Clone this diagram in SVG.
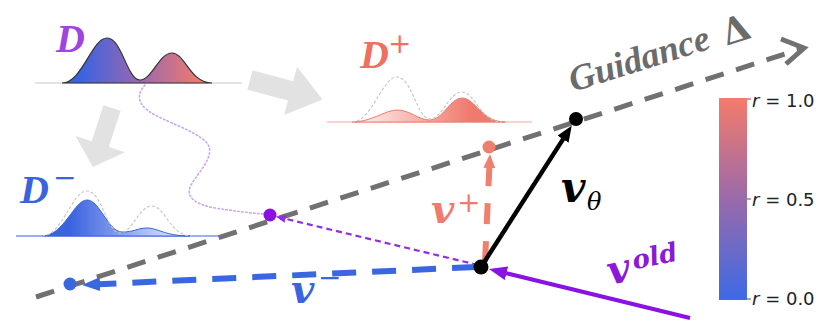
<svg xmlns="http://www.w3.org/2000/svg" width="819" height="321" viewBox="0 0 819 321">
<style>
.lbl{font-family:"Liberation Serif",serif;font-style:italic;font-weight:bold}
.math{font-family:"DejaVu Serif",serif;font-style:italic;font-weight:bold}
.sup{font-family:"DejaVu Serif",serif}
.cb{font-family:"DejaVu Sans",sans-serif;font-size:18px;fill:#222}
.ghost{fill:none;stroke:#c4c4c4;stroke-width:1.1;stroke-dasharray:3 2}
.bigarrow{fill:#e2e2e2}
</style>
<defs>
<linearGradient id="gD" gradientUnits="userSpaceOnUse" x1="80" y1="0" x2="200" y2="0">
<stop offset="0" stop-color="#3a63e0"/><stop offset="0.5" stop-color="#9a68b0"/><stop offset="1" stop-color="#f07a6e"/>
</linearGradient>
<linearGradient id="gP" gradientUnits="userSpaceOnUse" x1="355" y1="0" x2="470" y2="0">
<stop offset="0" stop-color="#fff4f2"/><stop offset="1" stop-color="#f07a6e"/>
</linearGradient>
<linearGradient id="gM" gradientUnits="userSpaceOnUse" x1="70" y1="0" x2="185" y2="0">
<stop offset="0" stop-color="#3a63e0"/><stop offset="1" stop-color="#e8edfc"/>
</linearGradient>
<linearGradient id="gCB" x1="0" y1="0" x2="0" y2="1">
<stop offset="0" stop-color="#f47b6b"/><stop offset="0.5" stop-color="#9a6aaa"/><stop offset="1" stop-color="#3d6ae6"/>
</linearGradient>
<marker id="mK" markerUnits="userSpaceOnUse" markerWidth="16" markerHeight="13" refX="6" refY="6.5" orient="auto"><path d="M0,0 L16,6.5 L0,13 Z" fill="#000"/></marker>
<marker id="mV" markerUnits="userSpaceOnUse" markerWidth="18" markerHeight="14" refX="8" refY="7" orient="auto"><path d="M0,0 L18,7 L0,14 Z" fill="#8a12e2"/></marker>
<marker id="mB" markerUnits="userSpaceOnUse" markerWidth="18" markerHeight="14" refX="8" refY="7" orient="auto"><path d="M0,0 L18,7 L0,14 Z" fill="#3a66e0"/></marker>
<marker id="mS" markerUnits="userSpaceOnUse" markerWidth="14" markerHeight="12" refX="4" refY="6" orient="auto"><path d="M0,0 L14,6 L0,12 Z" fill="#f0806e"/></marker>
<marker id="mP" markerUnits="userSpaceOnUse" markerWidth="10" markerHeight="8" refX="3" refY="4" orient="auto"><path d="M0,0 L10,4 L0,8 Z" fill="#9030e0"/></marker>
</defs>
<rect width="819" height="321" fill="#fff"/>

<g id="flow-arrows">
<polygon class="bigarrow" transform="translate(250,80) rotate(15)" points="0,-10 42,-10 42,-25 75,0 42,25 42,10 0,10"/>
<polygon class="bigarrow" transform="translate(112,108) rotate(108)" points="0,-9 38,-9 38,-26 62,0 38,26 38,9 0,9"/>
</g>

<g id="D">
<line x1="35" y1="83" x2="242" y2="83" stroke="#c8c8c8" stroke-width="1.2"/>
<path d="M62,83 C82,83 92,38 107,38 C122,38 127,80 140,80 C152,80 159,53 172,53 C185,53 190,83 212,83 Z" fill="url(#gD)" stroke="#333" stroke-width="1.2"/>
<text class="lbl" x="56" y="52" font-size="40" fill="#a044e0">D</text>
</g>

<g id="Dplus">
<line x1="327" y1="122" x2="532" y2="122" stroke="#f4a89e" stroke-width="1.2"/>
<path d="M352,122 C372,122 385,110 397,110 C410,110 418,120 430,120 C443,120 450,98 462,98 C475,98 482,122 505,122 Z" fill="url(#gP)" stroke="#f07a6e" stroke-width="1"/>
<path class="ghost" d="M352,122 C372,122 382,77 397,77 C412,77 417,119 430,119 C442,119 449,92 462,92 C475,92 480,122 502,122"/>
<text class="lbl" x="360" y="68" font-size="40" fill="#f07060">D</text>
<text class="sup" x="388" y="53" font-size="28" fill="#f07060">+</text>
</g>

<g id="Dminus">
<line x1="16" y1="236" x2="222" y2="236" stroke="#3a63e0" stroke-width="1.2"/>
<path d="M42,236 C64,236 74,200 87,200 C100,200 108,232 122,232 C134,232 138,228 147,228 C158,228 165,236 190,236 Z" fill="url(#gM)" stroke="#3a63e0" stroke-width="1"/>
<path class="ghost" d="M42,236 C62,236 72,191 87,191 C102,191 107,233 120,233 C132,233 139,206 152,206 C165,206 170,236 192,236"/>
<text class="lbl" x="20" y="203" font-size="40" fill="#3a63e0">D</text>
<text class="sup" x="53" y="187" font-size="28" fill="#3a63e0">−</text>
</g>

<g id="connectors">
<path d="M145,85 C136,95 138,104 150,112 C165,122 195,130 207,143 C216,155 200,170 191,185 C184,198 198,205 215,208 C235,211 250,213 263,214" fill="none" stroke="#c9a7ee" stroke-width="1.6" stroke-dasharray="1.5 2.5" stroke-linecap="round"/>
<line x1="36" y1="297" x2="800" y2="49" stroke="#717171" stroke-width="5" stroke-dasharray="19 13"/>
<polyline points="781,39 804,48 786,64" fill="none" stroke="#717171" stroke-width="5"/>
<line x1="478" y1="265" x2="282.6" y2="218.1" stroke="#9030e0" stroke-width="2.2" stroke-dasharray="6 4" marker-end="url(#mP)"/>
<line x1="476" y1="267" x2="92" y2="284.5" stroke="#3a66e0" stroke-width="6" stroke-dasharray="24 16" marker-end="url(#mB)"/>
<line x1="485" y1="262" x2="489.5" y2="164" stroke="#f0806e" stroke-width="6" stroke-dasharray="21 17" marker-end="url(#mS)"/>
<line x1="481" y1="267" x2="566.3" y2="134.1" stroke="#000" stroke-width="4.5" marker-end="url(#mK)"/>
<line x1="690" y1="318" x2="498.7" y2="271.4" stroke="#8a12e2" stroke-width="4" marker-end="url(#mV)"/>
</g>

<g id="points">
<circle cx="576" cy="119" r="7" fill="#000"/>
<circle cx="481" cy="267" r="7.5" fill="#000"/>
<circle cx="270" cy="215" r="6.5" fill="#8c10e0"/>
<circle cx="70" cy="284" r="6.5" fill="#3a66e0"/>
<circle cx="489" cy="147" r="6.5" fill="#f0806e"/>
</g>

<g id="guidance" transform="translate(573,92) rotate(-17.5)" fill="#6b6b6b">
<text class="lbl" x="0" y="0" font-size="36" textLength="146" lengthAdjust="spacingAndGlyphs">Guidance</text>
<text class="sup" x="160" y="2" font-size="36" font-weight="bold">Δ</text>
</g>

<g id="labels">
<text class="math" x="561" y="202" font-size="42" fill="#000">v</text>
<text class="sup" x="587" y="210" font-size="24" font-style="italic" fill="#000">θ</text>
<text class="math" x="431" y="223" font-size="40" fill="#f07a6e">v</text>
<text class="sup" x="457" y="212" font-size="28" fill="#f07a6e">+</text>
<text class="math" x="291" y="303" font-size="40" fill="#3a63e0">v</text>
<text class="sup" x="318" y="287" font-size="28" fill="#3a63e0">−</text>
<g transform="translate(610,285) rotate(-12)" fill="#8a1ad8">
<text class="math" x="0" y="0" font-size="40">v</text>
<text class="math" x="27" y="-10" font-size="26">old</text>
</g>
</g>

<g id="colorbar">
<rect x="719" y="98" width="28" height="202" fill="url(#gCB)"/>
<path d="M747,99 h4 M747,199 h4 M747,299 h4" stroke="#555" stroke-width="1"/>
<text class="cb" x="752" y="107"><tspan font-style="italic">r</tspan> = 1.0</text>
<text class="cb" x="752" y="206"><tspan font-style="italic">r</tspan> = 0.5</text>
<text class="cb" x="752" y="305"><tspan font-style="italic">r</tspan> = 0.0</text>
</g>
</svg>
